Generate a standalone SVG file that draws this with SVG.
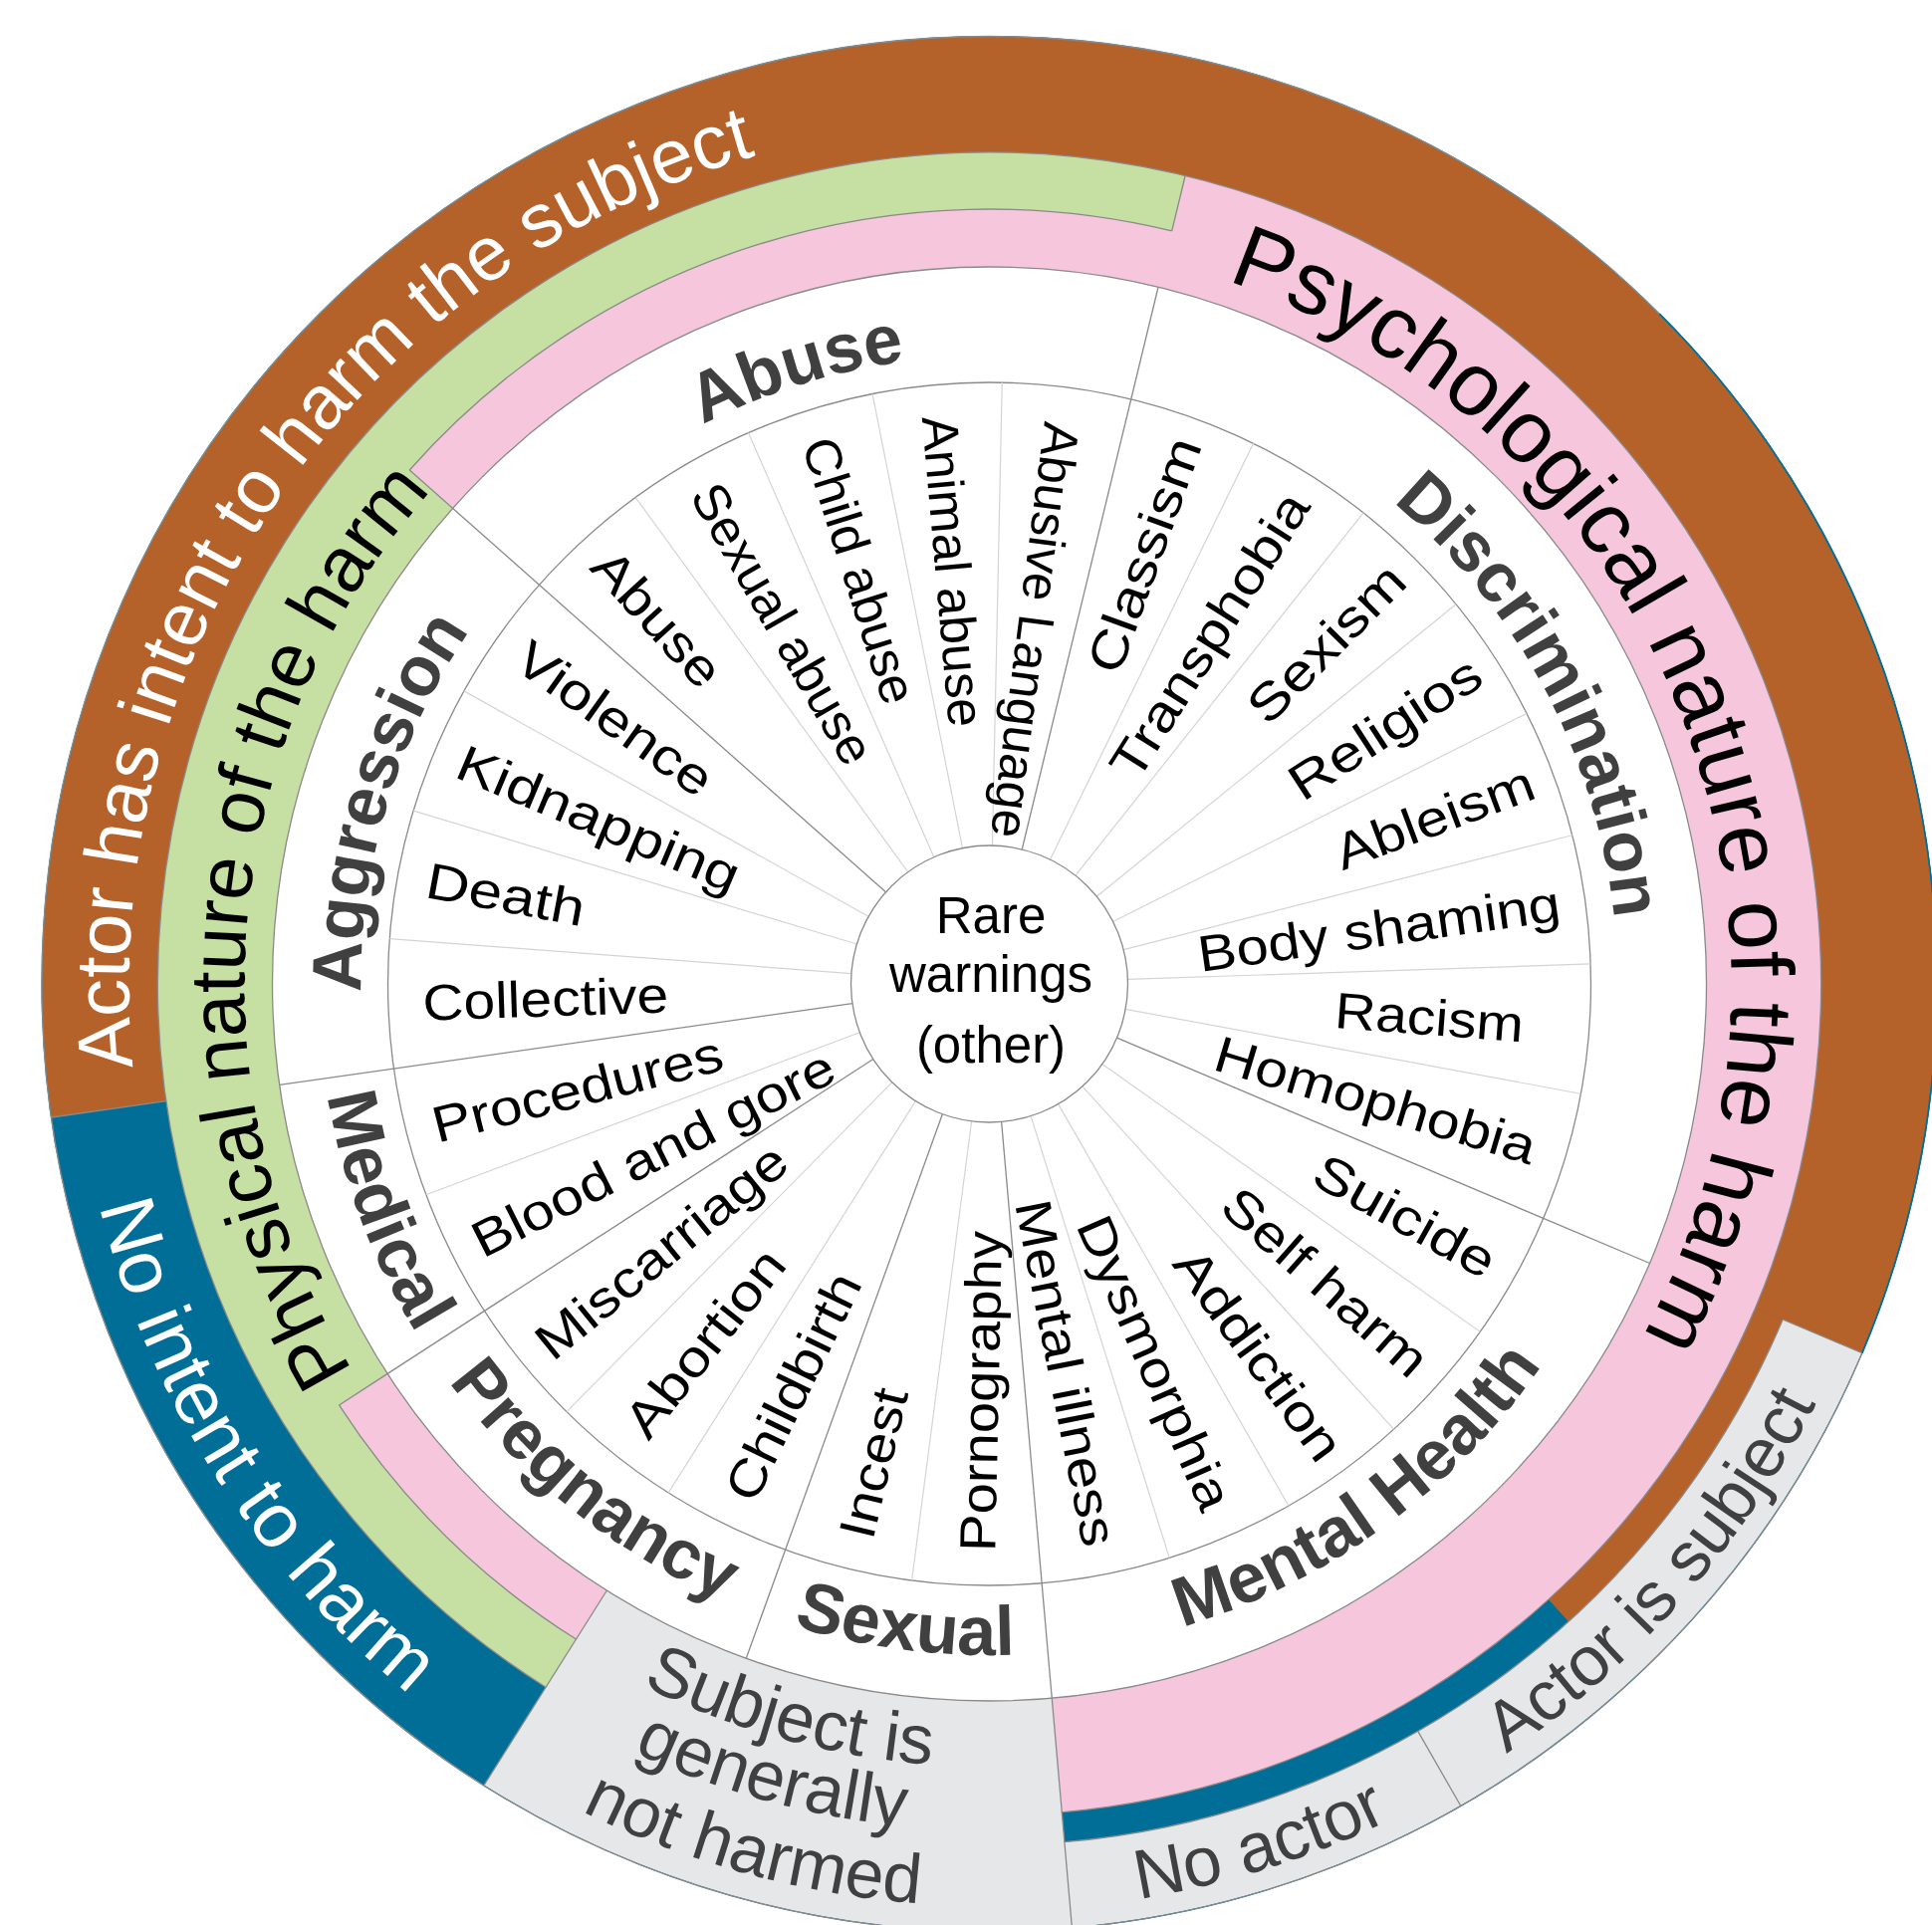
<svg xmlns="http://www.w3.org/2000/svg" width="1940" height="1933" viewBox="0 0 1940 1933">
<style>
.ol{fill:none;stroke:#8a8a8a;stroke-width:1.3}
.lf{stroke:#d4d4d4;stroke-width:1.2}
.cl{stroke:#8a8a8a;stroke-width:1.3}
.band{fill:none}
text{font-family:"Liberation Sans",Arial,Helvetica,sans-serif;text-anchor:middle}
.leaf{font-size:51px;fill:#000}
.cat{font-size:70px;font-weight:bold;fill:#404040}
.big{font-size:78px}
.gry{font-size:70px;fill:#404040}
.ctr{font-size:51px;fill:#000}
</style>
<defs>
<!-- clockwise circles starting at 9 o'clock (25% = top) -->
<path id="cw631" d="M -631 0 A 631 631 0 1 1 631 0 A 631 631 0 1 1 -631 0"/>
<path id="cw745" d="M -745 0 A 745 745 0 1 1 745 0 A 745 745 0 1 1 -745 0"/>
<path id="cw748" d="M -748 0 A 748 748 0 1 1 748 0 A 748 748 0 1 1 -748 0"/>
<path id="cw864" d="M -864 0 A 864 864 0 1 1 864 0 A 864 864 0 1 1 -864 0"/>
<!-- counter-clockwise circles starting at 9 o'clock (25% = bottom) -->
<path id="ccw674" d="M -674 0 A 674 674 0 1 0 674 0 A 674 674 0 1 0 -674 0"/>
<path id="ccw921" d="M -921 0 A 921 921 0 1 0 921 0 A 921 921 0 1 0 -921 0"/>
<path id="ccw786" d="M -786 0 A 786 786 0 1 0 786 0 A 786 786 0 1 0 -786 0"/>
<path id="ccw850" d="M -850 0 A 850 850 0 1 0 850 0 A 850 850 0 1 0 -850 0"/>
<path id="ccw926" d="M -926 0 A 926 926 0 1 0 926 0 A 926 926 0 1 0 -926 0"/>
<path id="ccw931" d="M -931 0 A 931 931 0 1 0 931 0 A 931 931 0 1 0 -931 0"/>
</defs>
<rect width="1940" height="1933" fill="#fff"/>
<g transform="translate(993.5,988)">

<!-- outer rings as thick dashed strokes (dash = angular span) -->
<g id="rings" class="band">
  <circle r="893.5" fill="none" stroke="#006E97" stroke-width="117"/>
  <!-- harm nature ring -->
  <circle r="777.5" fill="none" stroke="#C6DFA2" stroke-width="115" stroke-dasharray="2189.9 6000" transform="rotate(122.24)"/>
  <circle r="777.5" fill="none" stroke="#F6C6DC" stroke-width="115" stroke-dasharray="2189.9 6000" transform="rotate(283.62)"/>
  <circle r="749" fill="none" stroke="#F6C6DC" stroke-width="58" stroke-dasharray="324.6 6000" transform="rotate(122.24)"/>
  <circle r="749" fill="none" stroke="#F6C6DC" stroke-width="58" stroke-dasharray="811.4 6000" transform="rotate(221.55)"/>
  <!-- intent ring -->
  <circle r="893" fill="none" stroke="#B5612A" stroke-width="116" stroke-dasharray="3289.1 6000" transform="rotate(171.9)"/>
  <circle r="893" fill="none" stroke="#006E97" stroke-width="116" stroke-dasharray="774 6000" transform="rotate(122.24)"/>
  <circle r="850" fill="none" stroke="#B5612A" stroke-width="30" stroke-dasharray="368.4 6000" transform="rotate(22.93)"/>
  <circle r="850" fill="none" stroke="#006E97" stroke-width="30" stroke-dasharray="552.5 6000" transform="rotate(47.76)"/>
  <circle r="908" fill="none" stroke="#E6E7E8" stroke-width="86" stroke-dasharray="983.7 6000" transform="rotate(22.93)"/>
  <circle r="835.5" fill="none" stroke="#E6E7E8" stroke-width="231" stroke-dasharray="543 6000" transform="rotate(85)"/>
</g>

<!-- ring outlines -->
<g id="outlines">
  <circle class="ol" r="951.5"/>
  <circle r="951.5" fill="none" stroke="#006E97" stroke-width="1.8" stroke-dasharray="1128.1 7000" transform="rotate(315)"/>
  <circle class="ol" r="720"/>
  <circle class="ol" r="604" stroke="#9a9a9a"/>
  <circle class="ol" r="778" stroke-dasharray="337.2 6000" transform="rotate(122.24)"/>
  <circle class="ol" r="778" stroke-dasharray="842.8 6000" transform="rotate(221.55)"/>
  <circle class="ol" r="835" stroke-dasharray="4703.8 6000" transform="rotate(122.24)"/>
  <circle class="ol" r="865" stroke-dasharray="937.1 6000" transform="rotate(22.93)"/>
</g>

<!-- connectors: radial dividers -->
<g id="connectors">
  <g class="lf">
    <line x1="139" x2="604" transform="rotate(184.31)"/>
    <line x1="139" x2="604" transform="rotate(196.73)"/>
    <line x1="139" x2="604" transform="rotate(209.14)"/>
    <line x1="139" x2="604" transform="rotate(233.97)"/>
    <line x1="139" x2="604" transform="rotate(246.38)"/>
    <line x1="139" x2="604" transform="rotate(258.79)"/>
    <line x1="139" x2="604" transform="rotate(271.21)"/>
    <line x1="139" x2="604" transform="rotate(296.03)"/>
    <line x1="139" x2="604" transform="rotate(308.45)"/>
    <line x1="139" x2="604" transform="rotate(320.86)"/>
    <line x1="139" x2="604" transform="rotate(333.28)"/>
    <line x1="139" x2="604" transform="rotate(345.69)"/>
    <line x1="139" x2="604" transform="rotate(358.1)"/>
    <line x1="139" x2="604" transform="rotate(10.52)"/>
    <line x1="139" x2="604" transform="rotate(35.34)"/>
    <line x1="139" x2="604" transform="rotate(47.76)"/>
    <line x1="139" x2="604" transform="rotate(60.17)"/>
    <line x1="139" x2="604" transform="rotate(72.59)"/>
    <line x1="139" x2="604" transform="rotate(97.41)"/>
    <line x1="139" x2="604" transform="rotate(122.24)"/>
    <line x1="139" x2="604" transform="rotate(134.66)"/>
    <line x1="139" x2="604" transform="rotate(159.48)"/>
  </g>
  <g class="cl">
    <line x1="139" x2="720" transform="rotate(171.9)"/>
    <line x1="139" x2="720" transform="rotate(221.55)"/>
    <line x1="139" x2="720" transform="rotate(283.62)"/>
    <line x1="139" x2="720" transform="rotate(22.93)"/>
    <line x1="139" x2="951" transform="rotate(85)"/>
    <line x1="139" x2="720" transform="rotate(109.83)"/>
    <line x1="139" x2="720" transform="rotate(147.07)"/>
    <line x1="720" x2="951" transform="rotate(122.24)"/>
    <line x1="720" x2="778" transform="rotate(147.07)"/>
    <line x1="720" x2="778" transform="rotate(221.55)"/>
    <line x1="778" x2="835" transform="rotate(283.62)"/>
    <line x1="835" x2="951" transform="rotate(171.9)"/>
    <line x1="865" x2="951" transform="rotate(22.93)"/>
    <line x1="865" x2="951" transform="rotate(60.17)"/>
  </g>
</g>

<!-- centre node -->
<g id="node-rare">
  <circle r="139" fill="#fff" stroke="#8a8a8a" stroke-width="1.3"/>
  <text class="ctr" x="1.5" y="-51.3">Rare</text>
  <text class="ctr" x="1.5" y="8.3">warnings</text>
  <text class="ctr" x="1.5" y="78.7">(other)</text>
</g>

<!-- leaf nodes -->
<g id="leaves" class="leaf">
  <text id="node-collective" transform="rotate(178.11) translate(446 0) rotate(180)" dy=".35em" textLength="247" lengthAdjust="spacingAndGlyphs">Collective</text>
  <text id="node-death" transform="rotate(190.52) translate(494 0) rotate(180)" dy=".35em" textLength="161" lengthAdjust="spacingAndGlyphs">Death</text>
  <text id="node-kidnapping" transform="rotate(202.93) translate(426 0) rotate(180)" dy=".35em" textLength="303" lengthAdjust="spacingAndGlyphs">Kidnapping</text>
  <text id="node-violence" transform="rotate(215.34) translate(461 0) rotate(180)" dy=".35em" textLength="230" lengthAdjust="spacingAndGlyphs">Violence</text>
  <text id="node-abuse-leaf" transform="rotate(227.76) translate(496 0) rotate(180)" dy=".35em" textLength="167" lengthAdjust="spacingAndGlyphs">Abuse</text>
  <text id="node-sexual-abuse" transform="rotate(240.17) translate(417 0) rotate(180)" dy=".35em" textLength="316" lengthAdjust="spacingAndGlyphs">Sexual abuse</text>
  <text id="node-child-abuse" transform="rotate(252.59) translate(435 0) rotate(180)" dy=".35em" textLength="277" lengthAdjust="spacingAndGlyphs">Child abuse</text>
  <text id="node-animal-abuse" transform="rotate(265) translate(416 0) rotate(180)" dy=".35em" textLength="313" lengthAdjust="spacingAndGlyphs">Animal abuse</text>
  <text id="node-abusive-language" transform="rotate(277.41) translate(358 0) rotate(180)" dy=".35em" textLength="420" lengthAdjust="spacingAndGlyphs">Abusive Language</text>
  <text id="node-classism" transform="rotate(289.83) translate(458 0)" dy=".35em" textLength="247" lengthAdjust="spacingAndGlyphs">Classism</text>
  <text id="node-transphobia" transform="rotate(302.24) translate(414 0)" dy=".35em" textLength="329" lengthAdjust="spacingAndGlyphs">Transphobia</text>
  <text id="node-sexism" transform="rotate(314.66) translate(481 0)" dy=".35em" textLength="202" lengthAdjust="spacingAndGlyphs">Sexism</text>
  <text id="node-religios" transform="rotate(327.07) translate(473 0)" dy=".35em" textLength="220" lengthAdjust="spacingAndGlyphs">Religios</text>
  <text id="node-ableism" transform="rotate(339.48) translate(477 0)" dy=".35em" textLength="210" lengthAdjust="spacingAndGlyphs">Ableism</text>
  <text id="node-body-shaming" transform="rotate(351.9) translate(395 0)" dy=".35em" textLength="367" lengthAdjust="spacingAndGlyphs">Body shaming</text>
  <text id="node-racism" transform="rotate(4.31) translate(443 0)" dy=".35em" textLength="190" lengthAdjust="spacingAndGlyphs">Racism</text>
  <text id="node-homophobia" transform="rotate(16.72) translate(405 0)" dy=".35em" textLength="334" lengthAdjust="spacingAndGlyphs">Homophobia</text>
  <text id="node-suicide" transform="rotate(29.14) translate(478 0)" dy=".35em" textLength="201" lengthAdjust="spacingAndGlyphs">Suicide</text>
  <text id="node-self-harm" transform="rotate(41.55) translate(451 0)" dy=".35em" textLength="258" lengthAdjust="spacingAndGlyphs">Self harm</text>
  <text id="node-addiction" transform="rotate(53.97) translate(460 0)" dy=".35em" textLength="250" lengthAdjust="spacingAndGlyphs">Addiction</text>
  <text id="node-dysmorphia" transform="rotate(66.38) translate(415 0)" dy=".35em" textLength="317" lengthAdjust="spacingAndGlyphs">Dysmorphia</text>
  <text id="node-mental-illness" transform="rotate(78.79) translate(398 0)" dy=".35em" textLength="353" lengthAdjust="spacingAndGlyphs">Mental illness</text>
  <text id="node-pornography" transform="rotate(91.21) translate(409 0) rotate(180)" dy=".35em" textLength="322" lengthAdjust="spacingAndGlyphs">Pornography</text>
  <text id="node-incest" transform="rotate(103.62) translate(495 0) rotate(180)" dy=".35em" textLength="153" lengthAdjust="spacingAndGlyphs">Incest</text>
  <text id="node-childbirth" transform="rotate(116.03) translate(450 0) rotate(180)" dy=".35em" textLength="248" lengthAdjust="spacingAndGlyphs">Childbirth</text>
  <text id="node-abortion" transform="rotate(128.45) translate(460 0) rotate(180)" dy=".35em" textLength="226" lengthAdjust="spacingAndGlyphs">Abortion</text>
  <text id="node-miscarriage" transform="rotate(140.86) translate(425 0) rotate(180)" dy=".35em" textLength="310" lengthAdjust="spacingAndGlyphs">Miscarriage</text>
  <text id="node-blood" transform="rotate(153.28) translate(378 0) rotate(180)" dy=".35em" textLength="401" lengthAdjust="spacingAndGlyphs">Blood and gore</text>
  <text id="node-procedures" transform="rotate(165.69) translate(427 0) rotate(180)" dy=".35em" textLength="299" lengthAdjust="spacingAndGlyphs">Procedures</text>
</g>

<!-- category nodes -->
<g id="categories" class="cat">
  <text id="node-aggression" transform="rotate(-73.27)"><textPath href="#cw631" startOffset="25%">Aggression</textPath></text>
  <text id="node-abuse" transform="rotate(-17.41)"><textPath href="#cw631" startOffset="25%">Abuse</textPath></text>
  <text id="node-discrimination" transform="rotate(62)"><textPath href="#cw631" startOffset="25%">Discrimination</textPath></text>
  <text id="node-mental-health" transform="rotate(-36.03)"><textPath href="#ccw674" startOffset="25%">Mental Health</textPath></text>
  <text id="node-sexual" transform="rotate(7.41)"><textPath href="#ccw674" startOffset="25%">Sexual</textPath></text>
  <text id="node-pregnancy" transform="rotate(38.45)"><textPath href="#ccw674" startOffset="25%">Pregnancy</textPath></text>
  <text id="node-medical" transform="rotate(69.48)"><textPath href="#ccw674" startOffset="25%">Medical</textPath></text>
</g>

<!-- harm nature nodes -->
<g id="nature">
  <text id="node-physical" class="big" fill="#000" transform="rotate(-84.9)"><textPath href="#cw748" startOffset="25%">Physical nature of the harm</textPath></text>
  <text id="node-psychological" class="big" fill="#000" style="font-size:89px" transform="rotate(68.5)"><textPath href="#cw745" startOffset="25%">Psychological nature of the harm</textPath></text>
</g>

<!-- intent nodes -->
<g id="intent">
  <text id="node-intent" class="big" fill="#fff" style="font-size:76.5px" transform="rotate(-55.65)"><textPath href="#cw864" startOffset="25%">Actor has intent to harm the subject</textPath></text>
  <text id="node-no-intent" class="big" fill="#fff" style="font-size:77px" transform="rotate(57.6)"><textPath href="#ccw921" startOffset="25%">No intent to harm</textPath></text>
  <g id="node-not-harmed" class="gry" transform="rotate(15.3)">
    <text><textPath href="#ccw786" startOffset="25%">Subject is</textPath></text>
    <text><textPath href="#ccw850" startOffset="25%">generally</textPath></text>
    <text><textPath href="#ccw926" startOffset="25%">not harmed</textPath></text>
  </g>
  <text id="node-no-actor" class="gry" transform="rotate(-17.4)"><textPath href="#ccw931" startOffset="25%">No actor</textPath></text>
  <text id="node-actor-subject" class="gry" transform="rotate(-48.5)"><textPath href="#ccw931" startOffset="25%">Actor is subject</textPath></text>
</g>
</g>
</svg>
